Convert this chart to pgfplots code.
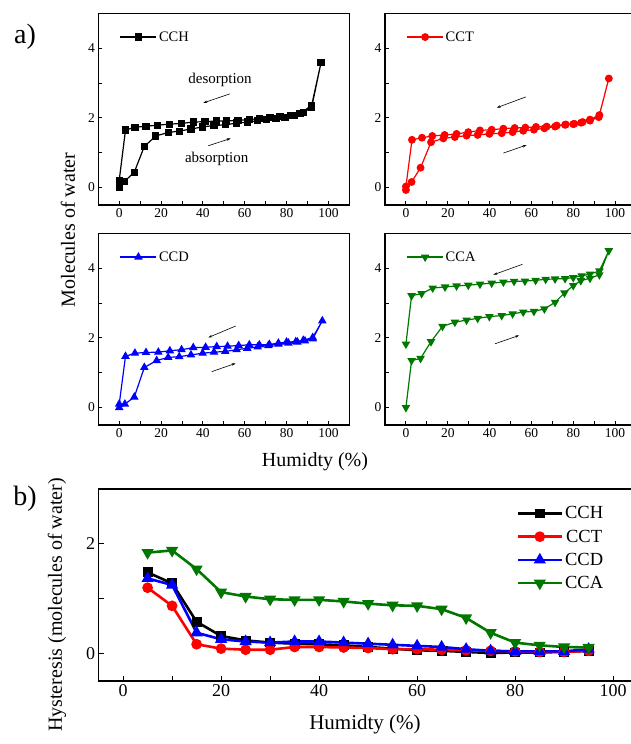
\documentclass[border=0pt]{standalone}
\usepackage{fontspec}
\setmainfont{Liberation Serif}
\usepackage{pgfplots}
\pgfplotsset{compat=1.18}
\usetikzlibrary{arrows.meta}
\definecolor{cgreen}{RGB}{0,120,0}
\begin{document}
\begin{tikzpicture}
\pgfplotsset{
  small/.style={
    scale only axis, width=251pt, height=191.7pt,
    xmin=-10, xmax=110, ymin=-0.5, ymax=5,
    xtick={0,20,...,100}, minor xtick={10,30,...,90},
    ytick={0,2,4}, minor ytick={1,3},
    tick pos=left, tick align=inside,
    major tick length=4pt, minor tick length=4pt,
    every tick/.style={black, line width=0.9pt},
    axis line style={line width=1.3pt},
    /pgf/number format/assume math mode=true,
    tick label style={font=\fontsize{13.5}{14}\selectfont},
    legend style={draw=none, fill=none, font=\fontsize{14.5}{15}\selectfont, anchor=west, at={(0.085,0.876)}, inner sep=0pt},
    legend image code/.code={\draw[mark repeat=2,mark phase=2] plot coordinates {(0pt,0pt) (18pt,0pt) (36pt,0pt)};},
    every axis plot/.append style={line width=1.2pt, mark size=3.3pt},
  }
}
% Top-left CCH
\begin{axis}[small, at={(98.3pt,539pt)}, anchor=south west]
\addplot[black, mark=square*, mark size=3pt] coordinates {
(0,0) (2.4,0.17) (7.2,0.44) (12,1.18) (17.5,1.48) (23.4,1.58) (28.7,1.62) (34.3,1.68) (39.9,1.74) (45.3,1.78) (50.7,1.80) (56.1,1.85) (61.2,1.88) (66.2,1.92) (70.5,1.96) (75,1.99) (79.3,2.02) (83.6,2.07) (88,2.15) (92,2.3) (96.5,3.59)
(92,2.36) (86.4,2.12) (81.7,2.06) (76.9,2.03) (72.1,2.0) (67,1.98) (62.2,1.95) (56.8,1.93) (51.4,1.91) (46.6,1.91) (41,1.89) (35.4,1.88) (29.7,1.84) (24.1,1.82) (18.3,1.79) (12.8,1.76) (7.5,1.73) (3,1.65) (0,0.21)};
\addlegendentry{CCH}
\node[font=\fontsize{15}{16}\selectfont] at (axis cs:48.2,3.08) {desorption};
\node[font=\fontsize{15}{16}\selectfont] at (axis cs:46.6,0.82) {absorption};
\draw[-{Stealth[length=4pt,width=2.5pt]}, line width=0.6pt] (axis cs:53,2.69) -- (axis cs:40.2,2.43);
\draw[-{Stealth[length=4pt,width=2.5pt]}, line width=0.6pt] (axis cs:42.6,1.2) -- (axis cs:53.3,1.41);
\end{axis}
% Top-right CCT
\begin{axis}[small, at={(385pt,539pt)}, anchor=south west]
\addplot[red, mark=*] coordinates {
(0,-0.07) (2.7,0.16) (7,0.57) (12,1.3) (17.9,1.41) (23.4,1.45) (29,1.49) (34.3,1.51) (39.9,1.54) (45.8,1.56) (51,1.59) (56.1,1.63) (61.2,1.66) (66.2,1.70) (71.3,1.75) (76.1,1.80) (80,1.82) (83.7,1.86) (88,1.92) (92.2,2.02) (97,3.13)
(92.5,2.08) (88,1.95) (84.5,1.88) (80.5,1.83) (76.4,1.81) (72.1,1.78) (67.3,1.75) (62.2,1.74) (57.1,1.72) (52,1.71) (46.6,1.69) (41,1.66) (35.4,1.64) (29.8,1.59) (24.2,1.54) (18.5,1.51) (12.6,1.48) (7.7,1.43) (2.9,1.37) (0,0.03)};
\addlegendentry{CCT}
\draw[-{Stealth[length=4pt,width=2.5pt]}, line width=0.6pt] (axis cs:57.3,2.60) -- (axis cs:43.4,2.29);
\draw[-{Stealth[length=4pt,width=2.5pt]}, line width=0.6pt] (axis cs:46.6,0.99) -- (axis cs:57.7,1.22);
\end{axis}
% Bottom-left CCD
\begin{axis}[small, at={(98.3pt,319pt)}, anchor=south west]
\addplot[blue, mark=triangle*, mark size=3.8pt] coordinates {
(0,0) (2.7,0.1) (7.2,0.3) (12,1.15) (17.9,1.35) (23.4,1.44) (28.7,1.46) (34.3,1.51) (39.9,1.56) (45.3,1.59) (50.7,1.61) (56.1,1.66) (61.2,1.70) (66.2,1.74) (71.3,1.78) (76.1,1.82) (80.9,1.85) (85.2,1.88) (88.8,1.91) (92.5,1.97) (97.1,2.49)
(92.5,2.01) (88,1.93) (84.4,1.89) (80,1.88) (76.1,1.85) (71.8,1.81) (67,1.80) (62.2,1.80) (57.1,1.78) (51.8,1.76) (46.6,1.75) (41.3,1.73) (35.4,1.72) (29.8,1.66) (24.2,1.63) (18.7,1.59) (12.8,1.58) (7.5,1.56) (3,1.47) (0,0.1)};
\addlegendentry{CCD}
\draw[-{Stealth[length=4pt,width=2.5pt]}, line width=0.6pt] (axis cs:55.7,2.34) -- (axis cs:42.6,2.01);
\draw[-{Stealth[length=4pt,width=2.5pt]}, line width=0.6pt] (axis cs:44.2,1.03) -- (axis cs:55.7,1.27);
\end{axis}
% Bottom-right CCA
\begin{axis}[small, at={(385pt,319pt)}, anchor=south west]
\addplot[cgreen, mark=triangle*, mark size=3.8pt, mark options={rotate=180}] coordinates {
(0,0) (2.7,1.35) (7,1.41) (12,1.89) (17.5,2.33) (23.4,2.45) (29,2.51) (34.3,2.56) (39.9,2.61) (45.8,2.64) (51,2.69) (56.1,2.74) (61.2,2.76) (66.2,2.83) (71.3,3.02) (75.8,3.29) (80,3.50) (83.6,3.64) (88,3.71) (92.5,3.81) (97,4.50)
(92.5,3.92) (88,3.83) (84,3.78) (80,3.73) (76.1,3.70) (71.3,3.69) (66.8,3.68) (62,3.65) (56.9,3.63) (51.7,3.62) (46.6,3.60) (41,3.57) (35.4,3.54) (29.8,3.51) (24.2,3.49) (18.7,3.46) (12.8,3.43) (7.5,3.27) (2.7,3.21) (0,1.82)};
\addlegendentry{CCA}
\draw[-{Stealth[length=4pt,width=2.5pt]}, line width=0.6pt] (axis cs:55.7,4.11) -- (axis cs:41.8,3.81);
\draw[-{Stealth[length=4pt,width=2.5pt]}, line width=0.6pt] (axis cs:42.6,1.83) -- (axis cs:54.1,2.07);
\end{axis}
% Panel b
\begin{axis}[at={(98.6pt,63pt)}, anchor=south west,
    scale only axis, width=539pt, height=192pt,
    xmin=-5, xmax=105, ymin=-0.5, ymax=3,
    xtick={0,20,...,100}, minor xtick={10,30,...,90},
    ytick={0,2}, minor ytick={1},
    tick pos=left, tick align=inside,
    major tick length=5pt, minor tick length=5pt,
    every tick/.style={black, line width=1pt},
    axis line style={line width=1.4pt},
    /pgf/number format/assume math mode=true,
    tick label style={font=\fontsize{18}{19}\selectfont},
    legend style={draw=none, fill=none, font=\fontsize{18.5}{19}\selectfont, anchor=north west, at={(0.775,0.92)}, inner sep=0pt, row sep=5.5pt},
    legend image code/.code={\draw[mark repeat=2,mark phase=2] plot coordinates {(0pt,0pt) (22pt,0pt) (44pt,0pt)};},
    every axis plot/.append style={line width=2.6pt, mark size=4pt},
]
\addplot[black, mark=square*, mark size=3.6pt] coordinates {
(5,1.48) (10,1.28) (15,0.58) (20,0.32) (25,0.24) (30,0.20) (35,0.18) (40,0.17) (45,0.15) (50,0.12) (55,0.09) (60,0.06) (65,0.05) (70,0.03) (75,0.01) (80,0.02) (85,0.02) (90,0.03) (95,0.05)};
\addlegendentry{CCH}
\addplot[red, mark=*] coordinates {
(5,1.20) (10,0.87) (15,0.17) (20,0.09) (25,0.07) (30,0.07) (35,0.12) (40,0.12) (45,0.11) (50,0.10) (55,0.08) (60,0.08) (65,0.07) (70,0.06) (75,0.05) (80,0.04) (85,0.03) (90,0.03) (95,0.05)};
\addlegendentry{CCT}
\addplot[blue, mark=triangle*, mark size=4.5pt] coordinates {
(5,1.37) (10,1.25) (15,0.38) (20,0.26) (25,0.22) (30,0.20) (35,0.22) (40,0.22) (45,0.20) (50,0.18) (55,0.16) (60,0.14) (65,0.12) (70,0.08) (75,0.05) (80,0.04) (85,0.04) (90,0.04) (95,0.08)};
\addlegendentry{CCD}
\addplot[cgreen, mark=triangle*, mark size=4.5pt, mark options={rotate=180}] coordinates {
(5,1.84) (10,1.88) (15,1.54) (20,1.12) (25,1.04) (30,0.99) (35,0.98) (40,0.98) (45,0.95) (50,0.91) (55,0.88) (60,0.87) (65,0.81) (70,0.65) (75,0.38) (80,0.20) (85,0.15) (90,0.12) (95,0.11)};
\addlegendentry{CCA}
\end{axis}
% labels
\node[font=\fontsize{28}{30}\selectfont] at (25pt,707pt) {a)};
\node[font=\fontsize{28}{30}\selectfont] at (25pt,245pt) {b)};
\node[rotate=90, font=\fontsize{20}{22}\selectfont] at (68pt,514pt) {Molecules of water};
\node[font=\fontsize{20}{22}\selectfont] at (315pt,282pt) {Humidty (\%)};
\node[rotate=90, font=\fontsize{20}{22}\selectfont] at (57pt,139pt) {Hysteresis (molecules of water)};
\node[font=\fontsize{21}{22}\selectfont] at (365pt,20pt) {Humidty (\%)};
\pgfresetboundingbox
\useasboundingbox (0pt,0pt) rectangle (631pt,744pt);
\end{tikzpicture}
\end{document}
